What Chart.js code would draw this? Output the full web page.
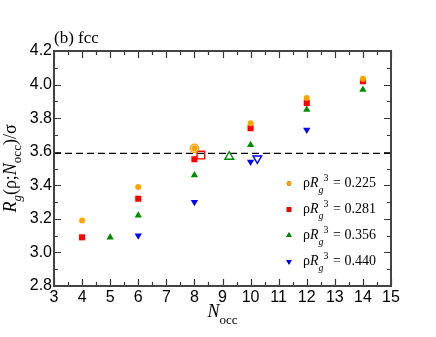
<!DOCTYPE html>
<html><head><meta charset="utf-8">
<script src="https://cdn.jsdelivr.net/npm/chart.js@4.4.0/dist/chart.umd.min.js"></script>
<style>html,body{margin:0;padding:0;background:#fff}</style>
</head><body>
<canvas id="c" width="436" height="337" style="width:436px;height:337px;display:block"></canvas>
<script>
// Data
const X225 = [4, 6, 8, 10, 12, 14];
const Y225 = [3.19, 3.39, 3.62, 3.77, 3.92, 4.035];
const X281 = [4, 6, 8, 10, 12, 14];
const Y281 = [3.09, 3.32, 3.555, 3.74, 3.89, 4.02];
const X356 = [5, 6, 8, 10, 12, 14];
const Y356 = [3.09, 3.22, 3.46, 3.64, 3.85, 3.97];
const X440 = [6, 8, 10, 12];
const Y440 = [3.10, 3.30, 3.54, 3.73];
// open markers (one per density)
const OPEN_X = [8.0, 8.23, 9.24, 10.24];
const OPEN_Y = [3.62, 3.58, 3.57, 3.56];
const REF_Y = 3.59;
const LEGEND_LABELS = ['0.225', '0.281', '0.356', '0.440'];
const X_TICKS = [3,4,5,6,7,8,9,10,11,12,13,14,15];
const Y_TICKS = [2.8,3.0,3.2,3.4,3.6,3.8,4.0,4.2];

const COLORS = ['#FFA500', '#FF0000', '#008C00', '#0000FF'];
const STYLES = [
  {pointStyle:'circle', rotation:0, r:3},
  {pointStyle:'rect', rotation:0, r:4.3},
  {pointStyle:'triangle', rotation:0, r:4.2},
  {pointStyle:'triangle', rotation:180, r:4.2}
];
const OPEN_R = [4.2, 5.4, 5.0, 5.0];

const zip = (xs, ys) => xs.map((x, i) => ({x, y: ys[i]}));
const series = [zip(X225,Y225), zip(X281,Y281), zip(X356,Y356), zip(X440,Y440)];

const datasets = [];
datasets.push({
  type:'line', data:[{x:X_TICKS[0], y:REF_Y},{x:X_TICKS[X_TICKS.length-1], y:REF_Y}],
  borderColor:'#000', borderWidth:1.3, borderDash:[7,4], pointRadius:0, fill:false, order:5
});
series.forEach((d, i) => {
  datasets.push({
    data:d, pointStyle:STYLES[i].pointStyle, rotation:STYLES[i].rotation,
    pointRadius:STYLES[i].r, pointHoverRadius:STYLES[i].r,
    backgroundColor:COLORS[i], borderWidth:0, borderColor:COLORS[i], order:1
  });
  datasets.push({
    data:[{x:OPEN_X[i], y:OPEN_Y[i]}], pointStyle:STYLES[i].pointStyle, rotation:STYLES[i].rotation,
    pointRadius:OPEN_R[i], pointHoverRadius:OPEN_R[i],
    backgroundColor:'rgba(0,0,0,0)', borderWidth:1.4, borderColor:COLORS[i], order:1
  });
});

const SERIF = '"Liberation Serif", "Times New Roman", serif';

const decor = {
  id:'decor',
  afterDraw(chart) {
    const ctx = chart.ctx, a = chart.chartArea;
    const xs = chart.scales.x, ys = chart.scales.y;
    ctx.save();
    ctx.strokeStyle = '#333'; ctx.lineWidth = 1.2;
    ctx.beginPath();
    const x0 = X_TICKS[0], x1 = X_TICKS[X_TICKS.length-1];
    for (let k = 0; k <= (x1 - x0) * 2; k++) {
      const v = x0 + k * 0.5;
      const px = Math.round(xs.getPixelForValue(v)) + 0.5;
      const L = (k % 2 === 0) ? 7 : 4;
      ctx.moveTo(px, a.bottom); ctx.lineTo(px, a.bottom - L);
      ctx.moveTo(px, a.top); ctx.lineTo(px, a.top + L);
    }
    const y0 = Y_TICKS[0], y1 = Y_TICKS[Y_TICKS.length-1];
    const ny = Math.round((y1 - y0) / 0.1);
    for (let k = 0; k <= ny; k++) {
      const v = y0 + k * 0.1;
      const py = Math.round(ys.getPixelForValue(v)) + 0.5;
      const L = (k % 2 === 0) ? 7 : 4;
      ctx.moveTo(a.left, py); ctx.lineTo(a.left + L, py);
      ctx.moveTo(a.right, py); ctx.lineTo(a.right - L, py);
    }
    ctx.stroke();
    ctx.lineWidth = 2; ctx.strokeStyle = '#444';
    ctx.strokeRect(a.left, a.top, a.right - a.left, a.bottom - a.top);

    ctx.fillStyle = '#000';
    ctx.textBaseline = 'alphabetic';
    // panel title
    ctx.font = '17px ' + SERIF; ctx.textAlign = 'left';
    ctx.fillText('(b) fcc', a.left, 43);

    // x-axis title
    const cx = (a.left + a.right) / 2;
    ctx.font = 'italic 18px ' + SERIF;
    const wN = ctx.measureText('N').width;
    ctx.font = '13px ' + SERIF;
    const wO = ctx.measureText('occ').width;
    let sx = cx - (wN + wO) / 2;
    ctx.font = 'italic 18px ' + SERIF; ctx.fillText('N', sx, 317);
    ctx.font = '13px ' + SERIF; ctx.fillText('occ', sx + wN, 324);

    // y-axis title (rotated)
    ctx.save();
    const cy = (a.top + a.bottom) / 2;
    ctx.translate(16, cy); ctx.rotate(-Math.PI / 2);
    const parts = [
      {t:'R', f:'italic 18px ', dy:0},
      {t:'g', f:'italic 13px ', dy:5},
      {t:'(\u03C1;', f:'18px ', dy:0},
      {t:'N', f:'italic 18px ', dy:0},
      {t:'occ', f:'13px ', dy:5},
      {t:')/\u03C3', f:'18px ', dy:0}
    ];
    let tw = 0;
    parts.forEach(p => { ctx.font = p.f + SERIF; p.w = ctx.measureText(p.t).width; tw += p.w; });
    let px = -tw / 2;
    parts.forEach(p => { ctx.font = p.f + SERIF; ctx.fillText(p.t, px, p.dy); px += p.w; });
    ctx.restore();

    // legend
    for (let i = 0; i < 4; i++) {
      const by = 187 + i * 26;
      Chart.helpers.drawPoint(ctx, {
        pointStyle:STYLES[i].pointStyle, rotation:STYLES[i].rotation,
        radius:STYLES[i].r * 0.75, borderWidth:0
      }, 289, by - 3.5);
      ctx.fillStyle = COLORS[i]; ctx.fill();
      ctx.fillStyle = '#000';
      let lx = 303;
      ctx.font = '14px ' + SERIF; ctx.fillText('\u03C1', lx, by); lx += ctx.measureText('\u03C1').width;
      ctx.font = 'italic 14px ' + SERIF; ctx.fillText('R', lx, by); lx += ctx.measureText('R').width;
      ctx.font = 'italic 10px ' + SERIF; ctx.fillText('g', lx, by + 6); lx += ctx.measureText('g').width;
      ctx.font = '10px ' + SERIF; ctx.fillText('3', lx, by - 6); lx += ctx.measureText('3').width;
      ctx.font = '14px ' + SERIF; ctx.fillText(' = ' + LEGEND_LABELS[i], lx + 1, by);
    }
    ctx.restore();
  }
};

new Chart(document.getElementById('c'), {
  type:'scatter',
  data:{datasets},
  options:{
    responsive:false, animation:false, devicePixelRatio:1,
    layout:{padding:{top:51, right:45, left:0, bottom:0}},
    plugins:{legend:{display:false}, tooltip:{enabled:false}},
    scales:{
      x:{
        type:'linear', min:X_TICKS[0], max:X_TICKS[X_TICKS.length-1],
        grid:{display:false, drawTicks:false}, border:{display:false},
        afterBuildTicks:(s) => { s.ticks = X_TICKS.map(v => ({value:v})); },
        ticks:{font:{family:'"Liberation Sans", Arial, sans-serif', size:16}, color:'#000', padding:2, maxRotation:0, autoSkip:false},
        afterFit:(s) => { s.height = 51; }
      },
      y:{
        type:'linear', min:Y_TICKS[0], max:Y_TICKS[Y_TICKS.length-1],
        grid:{display:false, drawTicks:false}, border:{display:false},
        afterBuildTicks:(s) => { s.ticks = Y_TICKS.map(v => ({value:v})); },
        ticks:{font:{family:'"Liberation Sans", Arial, sans-serif', size:16}, color:'#000', padding:2, autoSkip:false,
          callback:(v) => Number(v).toFixed(1)},
        afterFit:(s) => { s.width = 54; }
      }
    }
  },
  plugins:[decor]
});
</script>
</body></html>
